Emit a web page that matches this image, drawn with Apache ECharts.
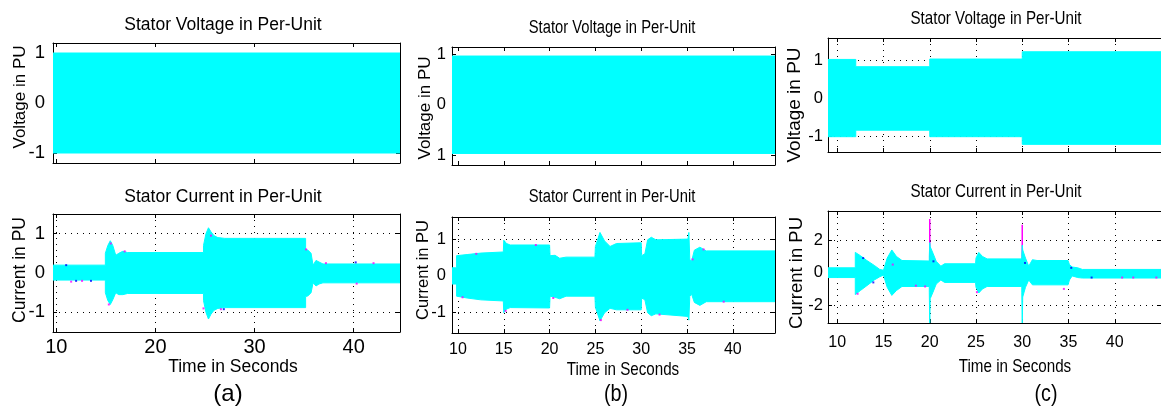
<!DOCTYPE html>
<html><head><meta charset="utf-8">
<script src="https://cdn.jsdelivr.net/npm/echarts@6/dist/echarts.min.js"></script>
<style>html,body{margin:0;padding:0;background:#fff}#c{width:1161px;height:412px}</style>
</head><body><div id="c"></div>
<script>
// ===== DATA =====
// Panel (a) - stator voltage envelope
const tA_V = [9.67, 44.67];
const upA_V = [1.0, 1.0];
const loA_V = [-1.0, -1.0];
// Panel (a) - stator current envelope
const tA_I  = [9.67, 14.95, 14.95, 15.2, 15.45, 15.7, 16.0, 16.3, 16.7, 17.2, 24.85, 24.85, 25.1, 25.35, 25.6, 25.9, 26.3, 27.0, 35.15, 35.15, 35.4, 35.7, 35.9, 36.2, 36.5, 36.9, 44.67];
const upA_I = [0.2, 0.2, 0.5, 0.7, 0.82, 0.7, 0.45, 0.5, 0.55, 0.52, 0.52, 0.7, 1.0, 1.15, 1.05, 0.95, 0.9, 0.88, 0.88, 0.6, 0.58, 0.5, 0.2, 0.32, 0.28, 0.23, 0.23];
const loA_I = [-0.18, -0.18, -0.5, -0.7, -0.8, -0.68, -0.5, -0.55, -0.55, -0.52, -0.52, -0.7, -1.0, -1.17, -1.05, -0.95, -0.9, -0.88, -0.88, -0.6, -0.58, -0.5, -0.25, -0.33, -0.28, -0.25, -0.25];
// Panel (b)
const tB_V = [9.35, 44.6];
const upB_V = [0.97, 0.97];
const loB_V = [-0.97, -0.97];
const tB_I  = [9.35, 9.85, 9.85, 11, 12.5, 14.95, 15.0, 15.3, 15.7, 20.0, 20.05, 20.6, 21.1, 21.8, 24.95, 25.0, 25.5, 26.0, 26.6, 27.3, 30.0, 30.05, 30.4, 30.7, 31.1, 31.6, 35.1, 35.2, 35.3, 35.5, 35.8, 36.4, 37.1, 44.6];
const upB_I = [0.22, 0.22, 0.55, 0.58, 0.62, 0.65, 0.97, 0.88, 0.84, 0.84, 0.55, 0.56, 0.48, 0.51, 0.51, 0.8, 1.18, 0.95, 0.8, 0.88, 0.9, 0.55, 0.6, 0.98, 1.05, 0.98, 1.0, 1.18, 0.45, 0.4, 0.7, 0.78, 0.68, 0.68];
const loB_I = [-0.22, -0.22, -0.55, -0.6, -0.65, -0.68, -1.0, -0.9, -0.86, -0.87, -0.55, -0.58, -0.62, -0.55, -0.55, -0.85, -1.22, -1.0, -0.88, -0.92, -0.92, -0.6, -0.65, -1.0, -1.08, -1.03, -1.1, -1.2, -0.55, -0.5, -0.72, -0.8, -0.7, -0.7];
// Panel (c)
const tC_V  = [9.0, 12.0, 12.0, 20.0, 20.0, 30.0, 30.0, 45.0];
const upC_V = [1.02, 1.02, 0.83, 0.83, 1.03, 1.03, 1.22, 1.22];
const loC_V = [-1.0, -1.0, -0.83, -0.83, -1.0, -1.0, -1.2, -1.2];
const tC_I  = [9.0, 11.95, 11.95, 12.5, 13.2, 14.0, 14.6, 15.0, 15.4, 15.9, 16.4, 17.0, 19.95, 19.95, 20.0, 20.05, 20.35, 20.7, 21.2, 21.6, 24.95, 25.0, 25.3, 25.7, 26.2, 29.95, 29.95, 30.0, 30.05, 30.35, 30.7, 31.1, 31.6, 34.95, 35.1, 35.4, 36.0, 36.5, 45];
const upC_I = [0.3, 0.3, 1.25, 1.05, 0.75, 0.45, 0.2, 0.15, 0.9, 1.4, 1.0, 0.75, 0.72, 1.0, 1.85, 1.6, 1.2, 0.7, 0.4, 0.55, 0.55, 0.9, 1.25, 1.0, 0.85, 0.85, 1.0, 1.7, 1.4, 0.9, 0.4, 0.8, 0.75, 0.75, 0.5, 0.35, 0.3, 0.2, 0.2];
const loC_I = [-0.3, -0.3, -1.35, -1.1, -0.8, -0.45, -0.25, -0.15, -0.9, -1.4, -1.1, -0.85, -0.85, -1.2, -3.3, -1.6, -1.2, -0.7, -0.45, -0.6, -0.6, -0.9, -1.25, -1.0, -0.85, -0.85, -1.2, -3.3, -1.5, -0.9, -0.45, -0.75, -0.75, -0.75, -0.45, -0.2, -0.3, -0.33, -0.33];
// magenta phase spikes in (c) current
const spikeT_C = [20.0, 30.0];
const spikeV_C = [3.3, 2.95];
// stray phase dots (magenta / blue)
const dotMA_t = [11.5, 12.6, 15.3, 15.5, 16.9, 24.85, 25.6, 26.6, 35.2, 37.2, 40.3, 42.0];
const dotMA_v = [-0.22, -0.2, -0.8, 0.75, 0.55, -0.9, 0.95, -0.92, 0.6, 0.25, -0.27, 0.25];
const dotBA_t = [11.0, 12.0, 13.5, 26.9, 40.2];
const dotBA_v = [0.2, -0.2, -0.2, -0.92, 0.27];
const dotMB_t = [10.5, 12.0, 15.2, 18.5, 20.4, 25.6, 28.5, 32.0, 35.6, 36.8, 39.0];
const dotMB_v = [-0.58, 0.6, -0.95, 0.84, -0.6, -1.2, -0.92, -1.05, 0.45, 0.72, -0.7];
const dotMC_t = [12.2, 16.0, 18.5, 19.5, 25.1, 34.5, 40.8, 42.0, 44.5];
const dotMC_v = [-1.3, 0.5, -0.8, -0.85, -1.2, -1.0, -0.3, -0.3, -0.3];
const dotBC_t = [12.8, 13.9, 20.4, 30.3, 35.3, 37.5];
const dotBC_v = [0.9, -0.6, 0.7, 0.6, 0.3, -0.3];
// ticks
const xTicksA = [10, 20, 30, 40];
const xTicksBC = [10, 15, 20, 25, 30, 35, 40];
const yTicksPU = [-1, 0, 1];
const yTicksC_I = [-2, 0, 2];

// ===== STYLE =====
const REG = "'Liberation Sans', Arial, Helvetica, sans-serif";
const CYAN = '#00ffff';
const NX = 0.82; // horizontal squeeze of panels (b),(c) texts

const grids = [
  {left: 53,  top: 43,  width: 347, height: 120}, // a V
  {left: 53,  top: 214, width: 347, height: 118}, // a I
  {left: 452, top: 47,  width: 323, height: 118}, // b V
  {left: 452, top: 217, width: 323, height: 116}, // b I
  {left: 828, top: 38,  width: 349, height: 114}, // c V
  {left: 828, top: 211, width: 349, height: 112}  // c I
];
const panels = [
  {x:[9.67,44.67], xt:xTicksA,  y:[-1.2,1.2],  yt:yTicksPU, grid:false, xl:false, xs:20, ys:18.5, ym:8},
  {x:[9.67,44.67], xt:xTicksA,  y:[-1.5,1.5],  yt:yTicksPU, grid:true,  xl:true,  xs:20, ys:18.5, ym:8, xm:5},
  {x:[9.35,44.6],  xt:xTicksBC, y:[-1.2,1.15], yt:yTicksPU, grid:false, xl:false, xs:16, ys:16.5, ym:6, absY:true},
  {x:[9.35,44.6],  xt:xTicksBC, y:[-1.55,1.6], yt:yTicksPU, grid:true,  xl:true,  xs:16, ys:16.5, ym:6, xm:9},
  {x:[9,45],       xt:xTicksBC, y:[-1.4,1.58], yt:yTicksPU, grid:true,  xl:false, xs:16, ys:16.5, ym:5},
  {x:[9,45],       xt:xTicksBC, y:[-3.1,3.8],  yt:yTicksC_I,grid:true,  xl:true,  xs:16, ys:16.5, ym:5, xm:12}
];

const xAxes = [], yAxes = [];
const dotted = {color:'#000', width:1, type:[1,5]};
panels.forEach((p, gi) => {
  const lineS = {show:true, onZero:false, lineStyle:{color:'#000', width:1}};
  const tickS = (vals) => ({show:true, inside:true, length:4, customValues: vals, lineStyle:{color:'#000', width:1}});
  xAxes.push({gridIndex:gi, type:'value', position:'bottom', min:p.x[0], max:p.x[1],
    axisLine:lineS, axisTick:tickS(p.xt),
    axisLabel:{show:p.xl, customValues:p.xt, margin:p.xm||6, color:'#000', fontFamily:REG, fontSize:p.xs},
    splitLine:{show:p.grid, lineStyle:dotted}});
  xAxes.push({gridIndex:gi, type:'value', position:'top', min:p.x[0], max:p.x[1],
    axisLine:lineS, axisTick:tickS(p.xt), axisLabel:{show:false}, splitLine:{show:false}});
  yAxes.push({gridIndex:gi, type:'value', position:'left', min:p.y[0], max:p.y[1],
    axisLine:lineS, axisTick:tickS(p.yt),
    axisLabel:{show:true, customValues:p.yt, margin:p.ym, color:'#000', fontFamily:REG, fontSize:p.ys,
      formatter: p.absY ? (v => String(Math.abs(v))) : (v => String(v))},
    splitLine:{show:p.grid, lineStyle:dotted}});
  yAxes.push({gridIndex:gi, type:'value', position:'right', min:p.y[0], max:p.y[1],
    axisLine:lineS, axisTick:tickS(p.yt), axisLabel:{show:false}, splitLine:{show:false}});
});

function band(t, up, lo, gi) {
  return {
    type:'custom', xAxisIndex: gi*2, yAxisIndex: gi*2, clip:true, silent:true, z:3,
    data: t.map((tt, i) => [tt, lo[i], up[i]]),
    encode: {x:0, y:[1,2]},
    renderItem: (params, api) => {
      if (params.dataIndex !== 0) return;
      const pts = [];
      for (let i = 0; i < t.length; i++) pts.push(api.coord([t[i], up[i]]));
      for (let i = t.length - 1; i >= 0; i--) pts.push(api.coord([t[i], lo[i]]));
      return {type:'polygon', shape:{points:pts}, style:{fill:CYAN, stroke:CYAN, lineWidth:1}};
    }
  };
}
function dots(t, v, gi, color) {
  return {type:'scatter', xAxisIndex: gi*2, yAxisIndex: gi*2, symbol:'rect', symbolSize:2, z:4, silent:true,
    itemStyle:{color:color}, data: t.map((tt,i)=>[tt, v[i]])};
}
const series = [
  band(tA_V, upA_V, loA_V, 0),
  band(tA_I, upA_I, loA_I, 1),
  band(tB_V, upB_V, loB_V, 2),
  band(tB_I, upB_I, loB_I, 3),
  band(tC_V, upC_V, loC_V, 4),
  band(tC_I, upC_I, loC_I, 5),
  dots(dotMA_t, dotMA_v, 1, '#ff00ff'),
  dots(dotBA_t, dotBA_v, 1, '#0000ff'),
  dots(dotMB_t, dotMB_v, 3, '#ff00ff'),
  dots(dotMC_t, dotMC_v, 5, '#ff00ff'),
  dots(dotBC_t, dotBC_v, 5, '#0000ff')
];
spikeT_C.forEach((st, i) => {
  series.push({type:'line', xAxisIndex:10, yAxisIndex:10, z:2, symbol:'none', silent:true, clip:true,
    lineStyle:{color:'#ff00ff', width:1.5}, data:[[st, 0], [st, spikeV_C[i]]]});
});

function txt(text, x, y, size, rot, sx) {
  return {type:'text', x:x, y:y, rotation: rot || 0, scaleX: sx || 1, silent:true, z:10,
    style:{text:text, x:0, y:0, font: size + 'px ' + REG, fill:'#000', textAlign:'center', textVerticalAlign:'middle', align:'center', verticalAlign:'middle'}};
}
const V = Math.PI / 2;
const graphics = [
  txt('Stator Voltage in Per-Unit', 223, 25, 17.5),
  txt('Stator Current in Per-Unit', 223, 197, 17.5),
  txt('Voltage in PU', 20, 97, 17, V),
  txt('Current in PU', 20, 270, 17.5, V),
  txt('Time in Seconds', 233, 367, 17.5),
  txt('(a)', 228, 394, 24),

  txt('Stator Voltage in Per-Unit', 612, 28, 18, 0, NX),
  txt('Stator Current in Per-Unit', 612, 197, 18, 0, NX),
  txt('Voltage in PU', 425, 108, 17, V),
  txt('Current in PU', 423, 270, 16.5, V),
  txt('Time in Seconds', 623, 370, 18.5, 0, NX),
  txt('(b)', 616, 394, 24, 0, NX),

  txt('Stator Voltage in Per-Unit', 996, 19, 18.5, 0, NX),
  txt('Stator Current in Per-Unit', 996, 192, 18.5, 0, NX),
  txt('Voltage in PU', 795, 105, 19, V),
  txt('Current in PU', 797, 273, 18.5, V),
  txt('Time in Seconds', 1015, 367, 18.5, 0, NX),
  txt('(c)', 1046, 394, 24, 0, NX)
];

const chart = echarts.init(document.getElementById('c'), null, {renderer:'canvas'});
chart.setOption({
  animation:false,
  backgroundColor:'#fff',
  grid: grids,
  xAxis: xAxes,
  yAxis: yAxes,
  series: series,
  graphic: {elements: graphics}
});
</script>
</body></html>
